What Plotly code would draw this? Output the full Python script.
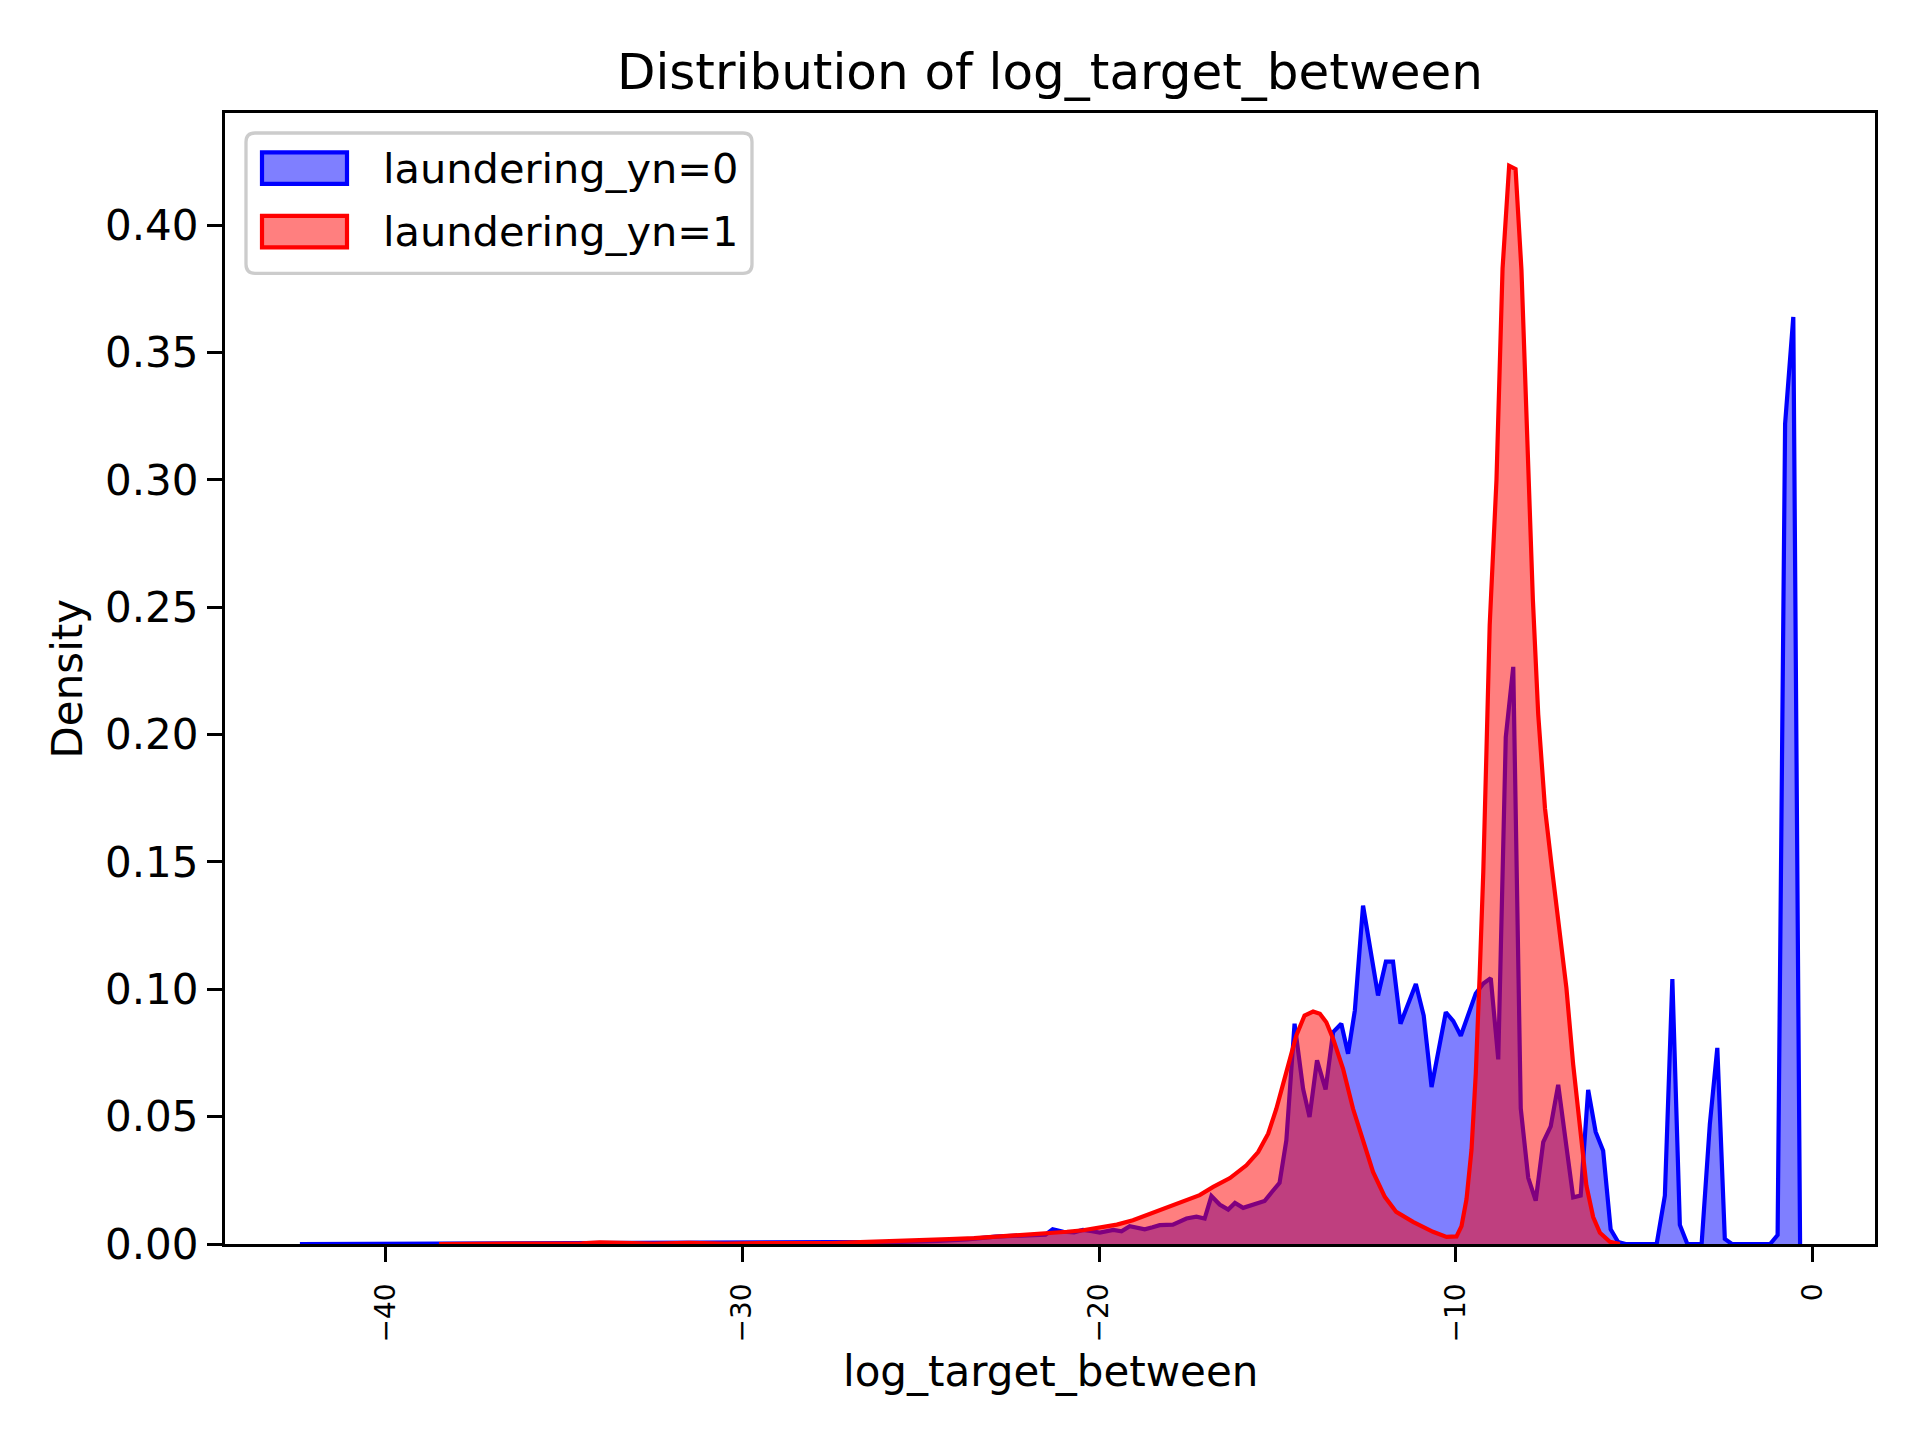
import plotly.graph_objects as go

# KDE curves
x_normal = [
    -42.4, -40.0, -38.0, -35.0, -32.0, -29.0, -27.0, -25.6, -24.5, -23.7,
    -22.9, -22.3, -21.7, -21.5, -21.3, -21.0, -20.7, -20.45, -20.2, -19.98,
    -19.6, -19.37, -19.14, -18.93, -18.72, -18.5, -18.3, -17.93, -17.74, -17.55,
    -17.27, -17.04, -16.85, -16.62, -16.38, -16.19, -15.96, -15.36, -15.15, -14.94,
    -14.75, -14.52, -14.28, -14.10, -13.89, -13.65, -13.44, -13.21, -13.02, -12.83,
    -12.60, -12.18, -11.96, -11.76, -11.55, -11.12, -10.90, -10.68, -10.28, -10.07,
    -9.86, -9.44, -9.23, -9.02, -8.81, -8.60, -8.39, -8.18, -7.97, -7.76,
    -7.55, -7.34, -7.13, -6.92, -6.71, -6.50, -6.29, -6.08, -5.87, -5.66,
    -5.45, -5.24, -4.37, -4.14, -3.93, -3.72, -3.51, -3.11, -2.88, -2.67,
    -2.46, -2.26, -1.19, -0.98, -0.77, -0.54, -0.35,
]
y_normal = [
    0.0, 0.0001, 0.0001, 0.0002, 0.0002, 0.0003, 0.0004, 0.0008, 0.0012, 0.0018,
    0.0029, 0.0032, 0.0035, 0.0037, 0.0058, 0.0048, 0.0046, 0.0055, 0.0050, 0.0045,
    0.0055, 0.0050, 0.0070, 0.0064, 0.0058, 0.0066, 0.0074, 0.0076, 0.0087, 0.0100,
    0.0107, 0.0100, 0.0188, 0.0155, 0.0135, 0.0161, 0.0142, 0.0169, 0.0205, 0.0240,
    0.0407, 0.0865, 0.0609, 0.0499, 0.0721, 0.0607, 0.0832, 0.0865, 0.0747, 0.0917,
    0.1329, 0.0976, 0.1109, 0.1109, 0.0865, 0.1021, 0.0897, 0.0616, 0.0910, 0.0875,
    0.0818, 0.0984, 0.1023, 0.1044, 0.0725, 0.1990, 0.2266, 0.0533, 0.0260, 0.0170,
    0.0400, 0.0462, 0.0625, 0.0410, 0.0183, 0.0190, 0.0605, 0.0440, 0.0366, 0.0058,
    0.0008, 0.0, 0.0, 0.019, 0.104, 0.0075, 0.0, 0.0, 0.047, 0.077,
    0.002, 0.0, 0.0, 0.0035, 0.322, 0.364, 0.0,
]

x_laundering = [
    -38.5, -36.0, -34.5, -34.0, -33.5, -32.5, -31.5, -30.5, -29.5, -28.5,
    -27.5, -26.5, -25.6, -24.9, -24.2, -23.5, -22.8, -22.1, -21.4, -20.9,
    -20.45, -19.98, -19.5, -19.05, -18.58, -18.11, -17.65, -17.18, -16.80, -16.33,
    -15.87, -15.54, -15.26, -15.03, -14.75, -14.47, -14.24, -14.00, -13.81, -13.63,
    -13.44, -13.16, -12.88, -12.60, -12.32, -11.99, -11.67, -11.20, -10.64, -10.26,
    -9.98, -9.84, -9.70, -9.56, -9.44, -9.33, -9.23, -9.14, -9.05, -8.86,
    -8.69, -8.505, -8.325, -8.16, -7.98, -7.84, -7.69, -7.50, -7.31, -7.08,
    -6.90, -6.71, -6.52, -6.34, -6.15, -5.96, -5.68, -5.40,
]
y_laundering = [
    0.0, 0.0001, 0.0003, 0.0006, 0.0004, 0.0002, 0.0005, 0.0002, 0.0004, 0.0003,
    0.0004, 0.0008, 0.0011, 0.0014, 0.0019, 0.0023, 0.0029, 0.0035, 0.0042, 0.0048,
    0.0054, 0.0063, 0.0076, 0.0093, 0.0118, 0.0142, 0.0165, 0.0192, 0.0224, 0.0259,
    0.0309, 0.0361, 0.0433, 0.0531, 0.0675, 0.0819, 0.0897, 0.0913, 0.0904, 0.0871,
    0.0806, 0.0688, 0.0531, 0.0401, 0.0283, 0.0185, 0.0126, 0.0087, 0.0048, 0.0028,
    0.0030, 0.0070, 0.0176, 0.0370, 0.0670, 0.1060, 0.1460, 0.1940, 0.2430, 0.3000,
    0.3830, 0.4234, 0.4221, 0.3825, 0.3100, 0.2530, 0.2080, 0.1710, 0.1480, 0.1230,
    0.1005, 0.0705, 0.0440, 0.0230, 0.0106, 0.0044, 0.0009, 0.0,
]

series_names = ["laundering_yn=0", "laundering_yn=1"]
x_ticks = [-40, -30, -20, -10, 0]
x_tick_text = ["\u221240", "\u221230", "\u221220", "\u221210", "0"]
y_ticks = [0.0, 0.05, 0.10, 0.15, 0.20, 0.25, 0.30, 0.35, 0.40]

FONT = "DejaVu Sans, sans-serif"
BLUE = "#0000ff"
RED = "#ff0000"
BLUE_FILL = "rgba(0,0,255,0.5)"
RED_FILL = "rgba(255,0,0,0.5)"

# plot area in page pixels (page body adds an 8px offset)
L, R, T, B = 225, 1875, 112.5, 1244.5
OFF = 8


def px(x):
    return (x - L) / (R - L)


def py(y):
    return (B - y) / (B - T)


fig = go.Figure()

fig.add_trace(go.Scatter(
    x=x_normal, y=y_normal, name=series_names[0],
    mode="lines", fill="tozeroy",
    line=dict(color=BLUE, width=4.2),
    fillcolor=BLUE_FILL,
))
fig.add_trace(go.Scatter(
    x=x_laundering, y=y_laundering, name=series_names[1],
    mode="lines", fill="tozeroy",
    line=dict(color=RED, width=4.2),
    fillcolor=RED_FILL,
))

# matplotlib-like legend drawn by hand: rounded frame, patch handles, labels
x0, x1, y0, y1 = px(246), px(752), py(273), py(132.5)
rx, ry = 9 / (R - L), 9 / (B - T)
frame_path = (
    f"M {x0 + rx},{y1} L {x1 - rx},{y1} Q {x1},{y1} {x1},{y1 - ry} "
    f"L {x1},{y0 + ry} Q {x1},{y0} {x1 - rx},{y0} "
    f"L {x0 + rx},{y0} Q {x0},{y0} {x0},{y0 + ry} "
    f"L {x0},{y1 - ry} Q {x0},{y1} {x0 + rx},{y1} Z"
)
shapes = [
    dict(type="path", path=frame_path, xref="paper", yref="paper",
         fillcolor="rgba(255,255,255,0.8)", line=dict(color="#cccccc", width=3.3),
         layer="above"),
]
annotations = []
for i, (name, edge, fill) in enumerate(zip(series_names, [BLUE, RED], [BLUE_FILL, RED_FILL])):
    top = 152 + i * 63.5
    shapes.append(dict(
        type="rect", xref="paper", yref="paper",
        x0=px(262), x1=px(347), y0=py(top + 31.5), y1=py(top),
        fillcolor=fill, line=dict(color=edge, width=4.2), layer="above",
    ))
    annotations.append(dict(
        text=name, xref="paper", yref="paper",
        x=px(381), y=py(top + 16), xanchor="left", yanchor="middle",
        showarrow=False, font=dict(size=41.5, family=FONT, color="black"),
    ))

annotations += [
    dict(text="log_target_between", xref="paper", yref="paper",
         x=0.5, y=py(1372), xanchor="center", yanchor="middle",
         showarrow=False, font=dict(size=42, family=FONT, color="black")),
    dict(text="Density", xref="paper", yref="paper",
         x=px(67), y=0.5, xanchor="center", yanchor="middle",
         textangle=-90, showarrow=False,
         font=dict(size=42, family=FONT, color="black")),
]

fig.update_layout(
    width=1920, height=1440,
    paper_bgcolor="white", plot_bgcolor="white",
    margin=dict(l=L - OFF, r=1920 - R + OFF, t=T - OFF, b=1440 - B + OFF),
    font=dict(family=FONT, color="black", size=42),
    title=dict(
        text="Distribution of log_target_between",
        x=0.5, xref="paper", y=1 - (71 - OFF) / 1440, yref="container",
        xanchor="center", yanchor="middle",
        font=dict(size=50, family=FONT, color="black"),
    ),
    showlegend=False,
    shapes=shapes,
    annotations=annotations,
)

fig.update_xaxes(
    range=[-44.5, 1.75],
    tickvals=x_ticks, ticktext=x_tick_text,
    tickangle=-90, tickfont=dict(size=28, family=FONT, color="black"),
    ticklabelstandoff=10,
    ticks="outside", ticklen=15, tickwidth=3.3, tickcolor="black",
    showline=True, linecolor="black", linewidth=3.3, mirror=True,
    showgrid=False, zeroline=False,
)
fig.update_yaxes(
    range=[0, 0.4441],
    tickvals=y_ticks, tickformat=".2f",
    tickfont=dict(size=42, family=FONT, color="black"),
    ticks="outside", ticklen=15, tickwidth=3.3, tickcolor="black",
    showline=True, linecolor="black", linewidth=3.3, mirror=True,
    showgrid=False, zeroline=False,
)

fig.write_html("out.html")
